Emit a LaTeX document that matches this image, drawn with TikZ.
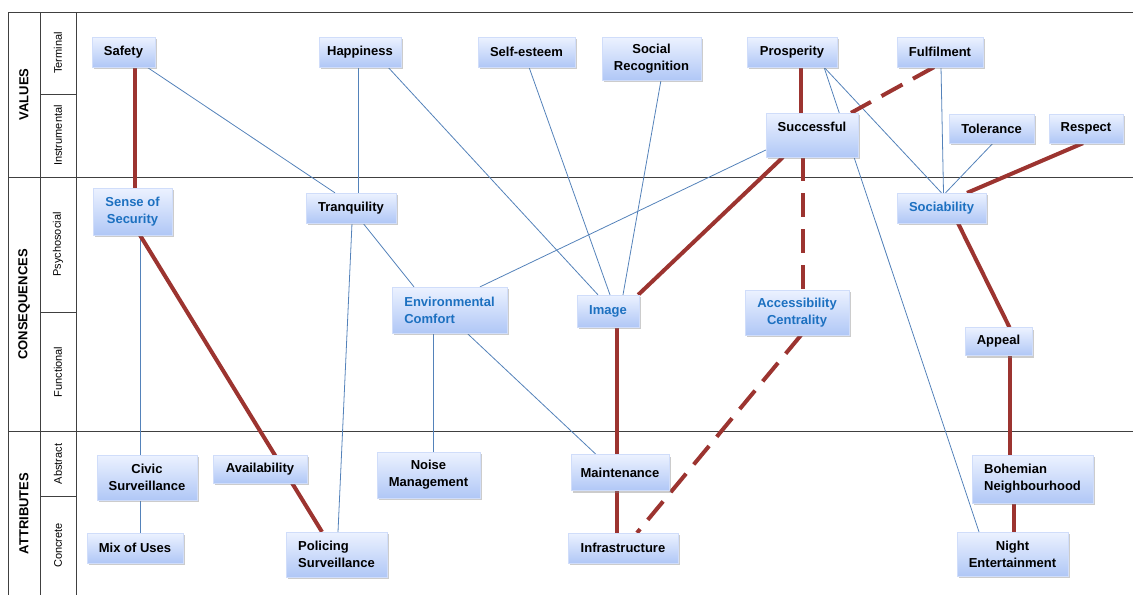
\documentclass[tikz,border=0pt]{standalone}
\usepackage{fontspec}
\setmainfont{Liberation Sans}
\usetikzlibrary{shadows,backgrounds}
\definecolor{boxtop}{RGB}{236,242,255}
\definecolor{boxbot}{RGB}{176,199,246}
\definecolor{thinblue}{RGB}{84,130,186}
\definecolor{redline}{RGB}{156,52,48}
\definecolor{textblue}{RGB}{28,112,192}
\begin{document}
\begin{tikzpicture}[x=1pt,y=-1pt,
  box/.style={rectangle, inner sep=0pt, top color=boxtop, bottom color=boxbot,
    draw=boxbot!60!white, line width=0.3pt,
    font=\fontsize{13}{17}\selectfont\bfseries, align=center,
    drop shadow={shadow xshift=1.5pt, shadow yshift=-2pt, opacity=0.4}},
  sz/.style 2 args={minimum width=#1pt, minimum height=#2pt},
  cons/.style={text=textblue},
  thinline/.style={draw=thinblue, line width=0.8pt},
  redthick/.style={draw=redline, line width=4pt},
  reddash/.style={redthick, dash pattern=on 24pt off 12pt},
  frameline/.style={draw=black!75, line width=0.8pt},
  mainlab/.style={rotate=90, font=\fontsize{13}{15}\selectfont\bfseries},
  sublab/.style={rotate=90, font=\fontsize{11}{13}\selectfont},
]
\useasboundingbox (0,0) rectangle (1134,595);

% ---------- nodes ----------
% values
\node[box, sz={63}{30}] (safety) at (123.5,52) {Safety};
\node[box, sz={82}{30}] (happiness) at (360,52) {Happiness};
\node[box, sz={97}{30}] (selfesteem) at (526.5,52) {Self-esteem};
\node[box, sz={99}{43}] (socialrec) at (651.5,58.5) {Social\\Recognition};
\node[box, sz={90}{30}] (prosperity) at (792,52) {Prosperity};
\node[box, sz={86}{30}] (fulfilment) at (940,52) {Fulfilment};
\node[box, sz={92}{44}] (successful) at (812,135) {Successful\\\phantom{X}};
\node[box, sz={85}{29}] (tolerance) at (991.5,128.5) {Tolerance};
\node[box, sz={74}{29}] (respect) at (1086,128.5) {Respect};
% consequences
\node[box, cons, sz={79}{47}] (security) at (132.5,211.5) {Sense of\\Security};
\node[box, sz={90}{30}] (tranq) at (351,208) {Tranquility};
\node[box, cons, sz={89}{30}] (sociability) at (941.5,208) {Sociability};
\node[box, cons, sz={115}{46}, align=left] (envcomfort) at (449.5,310) {Environmental\\Comfort};
\node[box, cons, sz={62}{32}] (image) at (608,311) {Image};
\node[box, cons, sz={104}{45}] (access) at (797,312.5) {Accessibility\\Centrality};
\node[box, sz={67}{28}] (appeal) at (998.5,341.5) {Appeal};
% attributes
\node[box, sz={100}{45}] (civic) at (147,477.5) {Civic\\Surveillance};
\node[box, sz={94}{28}] (availability) at (260,469) {Availability};
\node[box, sz={103}{46}] (noise) at (428.5,475) {Noise\\Management};
\node[box, sz={98}{36}] (maintenance) at (620,472.5) {Maintenance};
\node[box, sz={121}{48}, align=left] (bohemian) at (1032.5,479) {Bohemian\\Neighbourhood};
\node[box, sz={96}{30}] (mixuses) at (135,548) {Mix of Uses};
\node[box, sz={101}{45}, align=left] (policing) at (336.5,554.5) {Policing\\Surveillance};
\node[box, sz={110}{30}] (infra) at (623,548) {Infrastructure};
\node[box, sz={111}{44}] (night) at (1012.5,554) {Night\\Entertainment};

% row labels
\node[mainlab] (lvalues) at (24,94.5) {VALUES};
\node[mainlab] (lcons) at (24,304.5) {CONSEQUENCES};
\node[mainlab] (lattr) at (24,513.5) {ATTRIBUTES};
\node[sublab] (lterm) at (58,53) {Terminal};
\node[sublab] (linstr) at (58,135.5) {Instrumental};
\node[sublab] (lpsy) at (58,244.5) {Psychosocial};
\node[sublab] (lfun) at (58,372) {Functional};
\node[sublab] (labs) at (58,464) {Abstract};
\node[sublab] (lcon) at (58,545.5) {Concrete};

\begin{scope}[on background layer]
% frame
\draw[frameline] (8,12) -- (1133,12);
\draw[frameline] (8,12) -- (8,595);
\draw[frameline] (40,12) -- (40,595);
\draw[frameline] (76,12) -- (76,595);
\draw[frameline] (8,177) -- (1133,177);
\draw[frameline] (8,431.5) -- (1133,431.5);
\draw[frameline] (40,94) -- (76,94);
\draw[frameline] (40,312) -- (76,312);
\draw[frameline] (40,496) -- (76,496);

% thin connectors
\draw[thinline] ([xshift=23.5pt]safety.south) -- ([xshift=-16pt]tranq.north);
\draw[thinline] ([xshift=-2pt]happiness.south) -- ([xshift=7pt]tranq.north);
\draw[thinline] ([xshift=28pt]happiness.south) -- ([xshift=-10pt]image.north);
\draw[thinline] ([xshift=2.5pt]selfesteem.south) -- ([xshift=2pt]image.north);
\draw[thinline] ([xshift=9.5pt]socialrec.south) -- ([xshift=15pt]image.north);
\draw[thinline] ([yshift=-15pt]successful.west) -- ([xshift=30.5pt]envcomfort.north);
\draw[thinline] ([xshift=32pt]prosperity.south) -- ([xshift=0pt]sociability.north);
\draw[thinline] ([xshift=32pt]prosperity.south) -- ([xshift=-33.5pt]night.north);
\draw[thinline] ([xshift=1pt]fulfilment.south) -- ([xshift=2pt]sociability.north);
\draw[thinline] ([xshift=1.5pt]tolerance.south) -- ([xshift=4pt]sociability.north);
\draw[thinline] ([xshift=12pt]tranq.south) -- ([xshift=-35.5pt]envcomfort.north);
\draw[thinline] ([xshift=1pt]tranq.south) -- ([xshift=1.5pt]policing.north);
\draw[thinline] ([xshift=7.5pt]security.south) -- ([xshift=-7pt]civic.north);
\draw[thinline] ([xshift=-7pt]civic.south) -- ([xshift=5pt]mixuses.north);
\draw[thinline] ([xshift=-16.5pt]envcomfort.south) -- ([xshift=4.5pt]noise.north);
\draw[thinline] ([xshift=17.5pt]envcomfort.south) -- ([xshift=-24pt]maintenance.north);

% thick red connectors
\draw[redthick] ([xshift=11.5pt]safety.south) -- ([xshift=2.5pt]security.north);
\draw[redthick] ([xshift=7.5pt]security.south) -- ([xshift=-14.5pt]policing.north);
\draw[redthick] ([xshift=9pt]prosperity.south) -- ([xshift=-11pt]successful.north);
\draw[reddash] ([xshift=-6pt]fulfilment.south) -- ([xshift=39pt]successful.north);
\draw[redthick] ([xshift=-29pt]successful.south) -- ([xshift=-1pt]image.north east);
\draw[reddash] ([xshift=-9pt]successful.south) -- ([xshift=6pt]access.north);
\draw[reddash] ([xshift=4pt]access.south) -- ([xshift=14pt]infra.north);
\draw[redthick] ([xshift=9pt]image.south) -- ([xshift=-3pt]maintenance.north);
\draw[redthick] ([xshift=-3pt]maintenance.south) -- ([xshift=-6pt]infra.north);
\draw[redthick] ([xshift=-3pt]respect.south) -- ([xshift=25.5pt]sociability.north);
\draw[redthick] ([xshift=16.5pt]sociability.south) -- ([xshift=11pt]appeal.north);
\draw[redthick] ([xshift=11.5pt]appeal.south) -- ([xshift=-22.5pt]bohemian.north);
\draw[redthick] ([xshift=-18.5pt]bohemian.south) -- ([xshift=1.5pt]night.north);
\end{scope}
\end{tikzpicture}
\end{document}
